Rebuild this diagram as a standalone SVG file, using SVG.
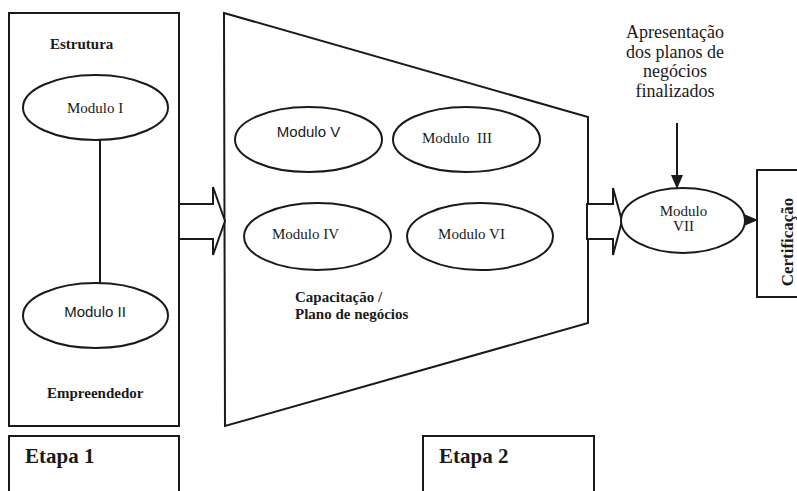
<svg xmlns="http://www.w3.org/2000/svg" width="797" height="491" viewBox="0 0 797 491">
  <style>
    .shape { fill: #ffffff; stroke: #1a1a1a; stroke-width: 2; }
    .line { fill: none; stroke: #1a1a1a; stroke-width: 2; }
    .serif { font-family: "Liberation Serif", "Times New Roman", serif; fill: #1a1a1a; }
    .sans { font-family: "Liberation Sans", Arial, sans-serif; fill: #1a1a1a; }
    .bold { font-weight: bold; }
    .mod { font-size: 15px; }
  </style>
  <defs>
    <marker id="arrowhead" markerWidth="14" markerHeight="12" refX="13" refY="6" orient="auto" markerUnits="userSpaceOnUse">
      <path d="M0,0 L14,6 L0,12 Z" fill="#1a1a1a"/>
    </marker>
  </defs>

  <rect width="797" height="491" fill="#ffffff"/>

  <!-- Etapa 1 column -->
  <g id="etapa1-frame">
    <rect class="shape" x="9" y="13" width="170" height="413"/>
    <text class="serif bold" x="50" y="49" font-size="15">Estrutura</text>
    <text class="serif bold" x="47" y="398" font-size="15">Empreendedor</text>
  </g>

  <!-- Etapa 2 funnel -->
  <g id="etapa2-funnel">
    <polygon class="shape" points="224,13 588,117 588,323 225,426"/>
    <text class="serif bold" font-size="15"><tspan x="295" y="302">Capacitação /</tspan><tspan x="295" y="319">Plano de negócios</tspan></text>
  </g>

  <!-- connectors -->
  <g id="connectors">
    <line class="line" x1="100" y1="140" x2="100" y2="283"/>
    <polygon class="shape" points="179,204 213,204 213,187 225,221 213,255 213,239 179,239"/>
    <polygon class="shape" points="587,204 613,204 613,188 622,221 613,255 613,239 587,239"/>
    <line class="line" x1="677" y1="123" x2="677" y2="188" marker-end="url(#arrowhead)"/>
    <line class="line" x1="744" y1="220" x2="757" y2="220" marker-end="url(#arrowhead)"/>
  </g>

  <g id="modulo-1">
    <ellipse class="shape" cx="95.5" cy="107.5" rx="72.5" ry="32.5"/>
    <text class="serif mod" x="95" y="113" text-anchor="middle">Modulo I</text>
  </g>

  <g id="modulo-2">
    <ellipse class="shape" cx="95.5" cy="315.5" rx="72.5" ry="32.5"/>
    <text class="sans mod" x="95" y="317" text-anchor="middle">Modulo II</text>
  </g>

  <g id="modulo-5">
    <ellipse class="shape" cx="308.5" cy="139.5" rx="73.5" ry="32.5"/>
    <text class="sans mod" x="308.5" y="137" text-anchor="middle">Modulo V</text>
  </g>

  <g id="modulo-3">
    <ellipse class="shape" cx="466.5" cy="139.5" rx="73.5" ry="32.5"/>
    <text class="serif mod" x="422" y="143" xml:space="preserve">Modulo  III</text>
  </g>

  <g id="modulo-4">
    <ellipse class="shape" cx="317.5" cy="236.5" rx="73.5" ry="33.5"/>
    <text class="serif mod" x="305.5" y="239" text-anchor="middle">Modulo IV</text>
  </g>

  <g id="modulo-6">
    <ellipse class="shape" cx="480" cy="236.5" rx="73" ry="33.5"/>
    <text class="serif mod" x="471.5" y="239" text-anchor="middle">Modulo VI</text>
  </g>

  <g id="modulo-7">
    <ellipse class="shape" cx="683" cy="220.5" rx="62" ry="32.5"/>
    <text class="serif mod" text-anchor="middle"><tspan x="683.5" y="216">Modulo</tspan><tspan x="683.5" y="231">VII</tspan></text>
  </g>

  <g id="apresentacao">
    <text class="serif" font-size="18" text-anchor="middle"><tspan x="675" y="38">Apresentação</tspan><tspan x="675" y="58">dos planos de</tspan><tspan x="675" y="77">negócios</tspan><tspan x="675" y="97">finalizados</tspan></text>
  </g>

  <g id="certificacao">
    <rect class="shape" x="757" y="170" width="50" height="127"/>
    <text class="serif bold" font-size="17" transform="translate(793,242) rotate(-90)" text-anchor="middle">Certificação</text>
  </g>

  <g id="etapa-1">
    <rect class="shape" x="9" y="436" width="170" height="70"/>
    <text class="serif bold" x="25" y="463" font-size="21">Etapa 1</text>
  </g>

  <g id="etapa-2">
    <rect class="shape" x="423" y="436" width="171" height="70"/>
    <text class="serif bold" x="439" y="463" font-size="21">Etapa 2</text>
  </g>
</svg>
